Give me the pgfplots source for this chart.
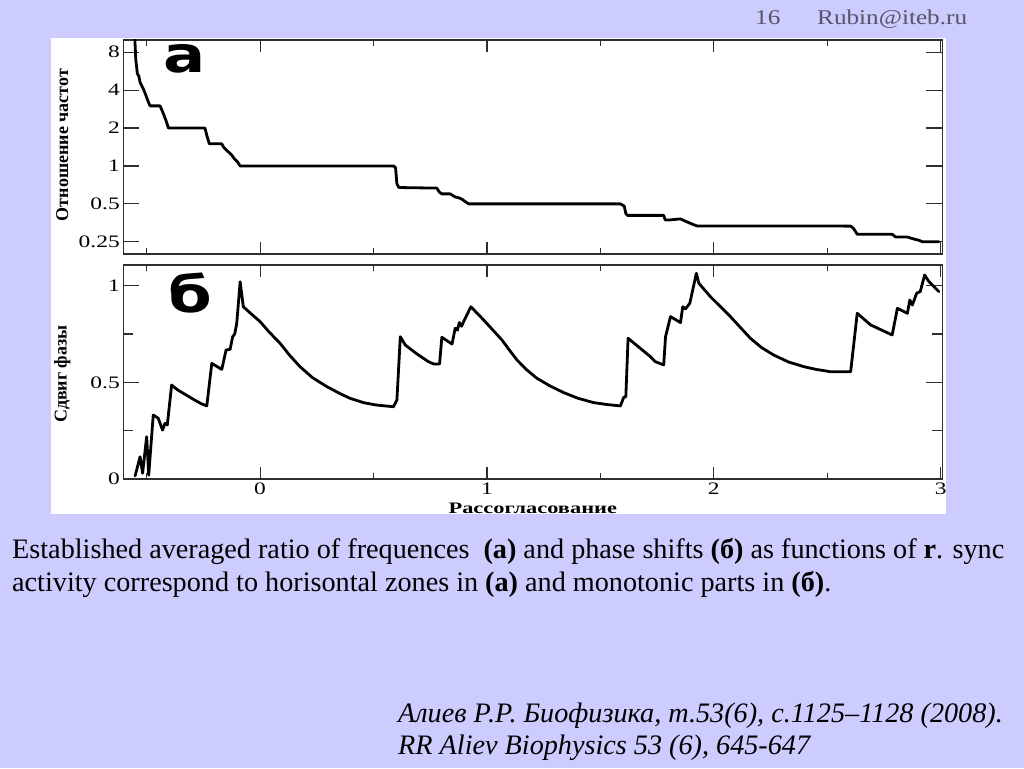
\documentclass[border=0pt]{standalone}
\usepackage{fontspec}
\setmainfont{Liberation Serif}
\newfontfamily\heavy{DejaVu Sans}
\usepackage{pgfplots}
\pgfplotsset{compat=1.18}
\definecolor{bg}{HTML}{CCCCFF}
\definecolor{hdr}{HTML}{55556A}
\definecolor{axc}{HTML}{2E2E2E}
\newcommand\sx[1]{\scalebox{1.34}[1]{#1}}

\pgfplotstableread{
r ratio
-0.553 11
-0.548 7.0
-0.541 5.4
-0.535 5.2
-0.529 4.6
-0.515 4.1
-0.505 3.7
-0.495 3.3
-0.485 3.0
-0.441 3.0
-0.430 2.7
-0.415 2.3
-0.404 2.0
-0.243 2.0
-0.235 1.75
-0.224 1.5
-0.169 1.5
-0.160 1.4
-0.147 1.33
-0.125 1.22
-0.115 1.15
-0.100 1.08
-0.088 1.0
0.588 1.0
0.597 0.97
0.603 0.72
0.612 0.674
0.779 0.667
0.790 0.62
0.801 0.60
0.838 0.60
0.860 0.567
0.875 0.56
0.890 0.544
0.905 0.52
0.919 0.5
1.588 0.5
1.605 0.48
1.612 0.42
1.619 0.405
1.779 0.405
1.786 0.372
1.801 0.372
1.853 0.38
1.875 0.364
1.900 0.348
1.926 0.334
2.603 0.333
2.615 0.32
2.632 0.287
2.786 0.287
2.801 0.273
2.853 0.273
2.875 0.265
2.904 0.257
2.919 0.25
2.992 0.25
}\ratiotable

\pgfplotstableread{
r phase
-0.551 0.016
-0.529 0.115
-0.518 0.03
-0.500 0.219
-0.491 0.02
-0.471 0.331
-0.449 0.314
-0.430 0.253
-0.419 0.288
-0.409 0.28
-0.390 0.486
-0.365 0.462
-0.338 0.443
-0.294 0.412
-0.260 0.39
-0.235 0.378
-0.213 0.598
-0.169 0.567
-0.150 0.667
-0.132 0.671
-0.121 0.736
-0.112 0.75
-0.103 0.805
-0.088 1.02
-0.074 0.891
-0.040 0.855
0.000 0.814
0.040 0.76
0.088 0.702
0.130 0.64
0.176 0.581
0.230 0.525
0.294 0.478
0.350 0.443
0.397 0.417
0.456 0.395
0.510 0.383
0.551 0.378
0.588 0.374
0.603 0.409
0.618 0.736
0.640 0.693
0.691 0.647
0.742 0.607
0.765 0.595
0.791 0.595
0.801 0.733
0.846 0.698
0.860 0.78
0.870 0.77
0.878 0.81
0.888 0.79
0.897 0.814
0.929 0.891
0.985 0.823
1.066 0.719
1.100 0.665
1.132 0.616
1.175 0.565
1.220 0.521
1.280 0.480
1.338 0.447
1.400 0.418
1.470 0.395
1.530 0.385
1.588 0.378
1.603 0.423
1.612 0.425
1.622 0.728
1.720 0.633
1.742 0.607
1.779 0.590
1.787 0.736
1.809 0.84
1.853 0.809
1.863 0.891
1.875 0.88
1.894 0.909
1.923 1.064
1.934 1.012
1.985 0.943
2.073 0.84
2.120 0.78
2.161 0.728
2.210 0.680
2.264 0.641
2.330 0.605
2.397 0.581
2.450 0.567
2.514 0.555
2.603 0.555
2.632 0.857
2.691 0.797
2.786 0.745
2.809 0.883
2.853 0.857
2.864 0.926
2.875 0.90
2.894 0.961
2.910 0.97
2.929 1.055
2.948 1.021
2.992 0.969
}\phasetable

\pgfplotsset{
  myax/.style={
    scale only axis, width=819pt, height=214pt,
    xmin=-0.603, xmax=3.007,
    axis line style={axc, line width=1.2pt},
    every tick/.style={axc, line width=1.1pt},
    major tick length=16pt, minor tick length=10pt,
    xtick style={/pgfplots/major tick length=12pt, /pgfplots/minor tick length=6pt},
    tick align=inside,
    xtick={0,1,2,3}, minor xtick={-0.5,0.5,1.5,2.5},
    /pgf/number format/assume math mode=true,
    yticklabel style={font=\fontsize{17.5}{17.5}\selectfont},
    xticklabel style={font=\fontsize{17.5}{17.5}\selectfont},
    ylabel style={font=\bfseries\fontsize{18}{18}\selectfont, anchor=center},
  },
  curve/.style={black, line width=2.8pt, line join=round, line cap=round},
}

\begin{document}
\begin{tikzpicture}
\fill[bg] (0pt,0pt) rectangle (1024pt,768pt);
\useasboundingbox (0pt,0pt) rectangle (1024pt,768pt);
\fill[white] (51pt,254pt) rectangle (946pt,730pt);

\node[anchor=base west, inner sep=0pt, text=hdr, font=\fontsize{21}{21}\selectfont] at (755pt,743pt) {\scalebox{1.2}[1]{16}};
\node[anchor=base west, inner sep=0pt, text=hdr, font=\fontsize{21}{21}\selectfont] at (817pt,743pt) {\scalebox{1.2}[1]{Rubin@iteb.ru}};

\begin{axis}[myax, at={(123.3pt,514pt)}, anchor=south west,
  ymode=log, log basis y=2, ymin=0.2, ymax=10,
  ytick={0.25,0.5,1,2,4,8}, yticklabels={\sx{0.25},\sx{0.5},\sx{1},\sx{2},\sx{4},\sx{8}},
  xticklabels={},
  ylabel={Отношение частот},
  ylabel style={at={(axis description cs:-0.0745,0.509)}},
]
\addplot[curve] table[x=r, y=ratio] {\ratiotable};
\node[font=\heavy\bfseries\fontsize{50}{50}\selectfont, inner sep=0pt] at (axis description cs:0.0745,0.9136) {\scalebox{1.25}[1]{а}};
\end{axis}

\begin{axis}[myax, at={(123.3pt,289pt)}, anchor=south west,
  ymin=0, ymax=1.107,
  ytick={0,0.5,1}, yticklabels={\sx{0},\sx{0.5},\sx{1}}, minor ytick={0.25,0.75},
  xticklabels={\sx{0},\sx{1},\sx{2},\sx{3}},
  ylabel={Сдвиг фазы},
  ylabel style={at={(axis description cs:-0.0745,0.49)}},
  xlabel={\scalebox{1.4}[1]{Рассогласование}},
  xlabel style={at={(axis description cs:0.5,-0.1355)}, anchor=center, font=\bfseries\fontsize{16}{16}\selectfont},
]
\addplot[curve] table[x=r, y=phase] {\phasetable};
\node[font=\heavy\bfseries\fontsize{50}{50}\selectfont, inner sep=0pt] at (axis description cs:0.0824,0.869) {\scalebox{1.25}[1]{б}};
\end{axis}

\node[anchor=base west, inner sep=0pt, font=\fontsize{28.2}{33}\selectfont] at (12pt,209pt) {Established averaged ratio of frequences\ \ \textbf{(a)} and phase shifts \textbf{(б)} as functions of \textbf{r}. sync};
\node[anchor=base west, inner sep=0pt, font=\fontsize{28.2}{33}\selectfont] at (12pt,176pt) {activity correspond to horisontal zones in \textbf{(a)} and monotonic parts in \textbf{(б)}.};

\node[anchor=base west, inner sep=0pt, font=\itshape\fontsize{28.2}{33}\selectfont] at (398pt,46pt) {Алиев Р.Р. Биофизика, т.53(6), с.1125–1128 (2008).};
\node[anchor=base west, inner sep=0pt, font=\itshape\fontsize{28.2}{33}\selectfont] at (398pt,14pt) {RR Aliev Biophysics 53 (6), 645-647};
\end{tikzpicture}
\end{document}
